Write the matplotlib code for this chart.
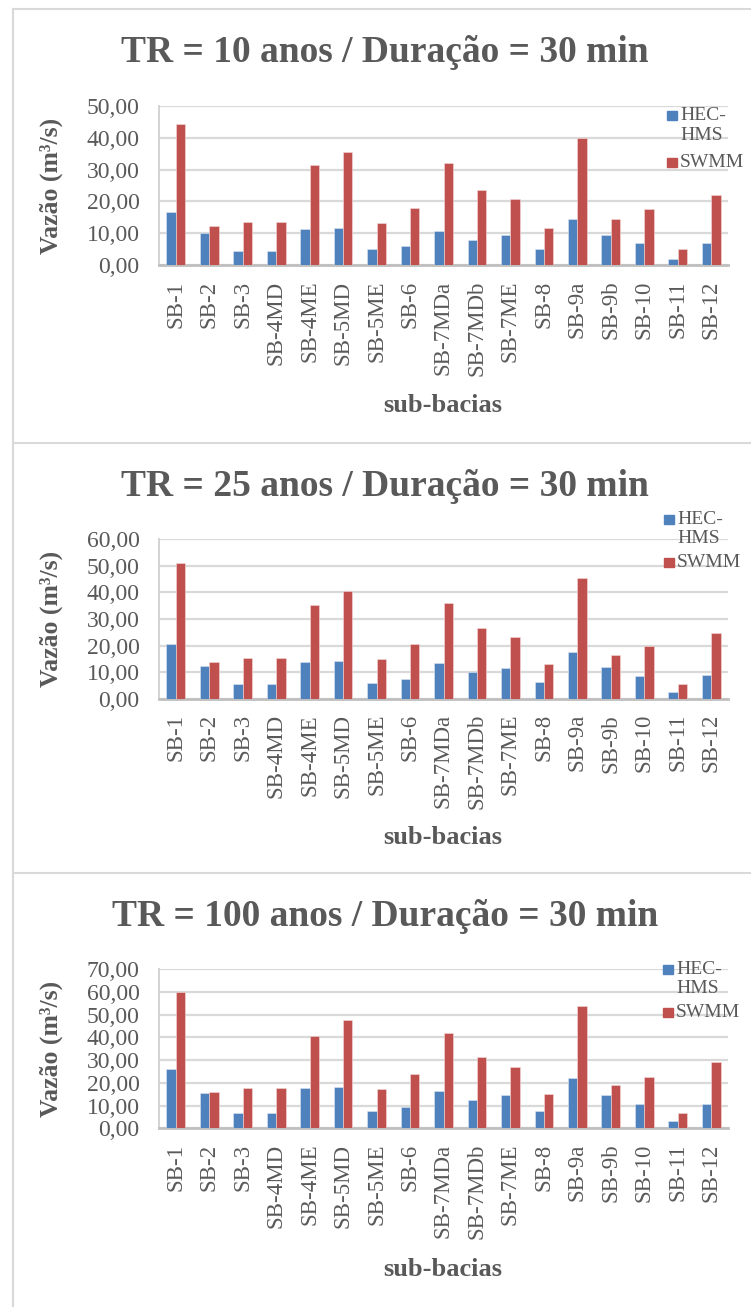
import numpy as np
import matplotlib
matplotlib.use('Agg')
from matplotlib import pyplot as plt
from matplotlib.lines import Line2D
from matplotlib.patches import Rectangle

plt.rcParams['font.family'] = ['Liberation Serif', 'DejaVu Serif']

subbacias = ['SB-1', 'SB-2', 'SB-3', 'SB-4MD', 'SB-4ME', 'SB-5MD', 'SB-5ME',
             'SB-6', 'SB-7MDa', 'SB-7MDb', 'SB-7ME', 'SB-8', 'SB-9a', 'SB-9b',
             'SB-10', 'SB-11', 'SB-12']

titles = ['TR = 10 anos / Duração = 30 min',
          'TR = 25 anos / Duração = 30 min',
          'TR = 100 anos / Duração = 30 min']

hec_tr10 = [16.8, 10.1, 4.5, 4.5, 11.5, 11.8, 5.0, 6.1, 10.9, 8.0,
            9.4, 5.1, 14.5, 9.6, 6.9, 2.1, 7.0]
swmm_tr10 = [44.4, 12.3, 13.5, 13.5, 31.4, 35.6, 13.1, 18.1, 32.0, 23.5,
             20.7, 11.7, 39.8, 14.5, 17.6, 5.1, 21.9]

hec_tr25 = [20.5, 12.4, 5.5, 5.5, 14.0, 14.3, 6.0, 7.4, 13.3, 9.9,
            11.6, 6.3, 17.5, 11.8, 8.5, 2.5, 8.8]
swmm_tr25 = [50.9, 13.8, 15.3, 15.3, 35.3, 40.6, 14.8, 20.6, 36.1, 26.8,
             23.4, 13.0, 45.6, 16.4, 19.8, 5.6, 24.8]

hec_tr100 = [25.9, 15.6, 6.8, 6.9, 17.6, 18.2, 7.6, 9.4, 16.6, 12.4,
             14.6, 7.8, 22.1, 14.7, 10.6, 3.2, 10.7]
swmm_tr100 = [60.0, 16.0, 17.8, 17.8, 40.6, 47.6, 17.2, 24.1, 41.9, 31.2,
              27.2, 15.0, 53.8, 19.0, 22.6, 6.6, 29.0]

y_max = [50, 60, 70]

W, H = 751, 1307
BLUE = '#4F81BD'
RED = '#C0504D'
GREY_TXT = '#595959'
GRID = '#d9d9d9'

fig = plt.figure(figsize=(W / 100, H / 100), dpi=100)


def fx(px):
    return px / W


def fy(py):
    return 1 - py / H


# panel layout in pixels: (title y, plot top, plot bottom, xlabel y, legend blue y, legend red y)
layout = [
    (52, 105.7, 265.3, 405, 115, 162.5),
    (487, 539.3, 698.7, 838, 519.5, 562.7),
    (917, 969.3, 1128.3, 1269, 969.7, 1012.5),
]
leg_x = [667, 664, 663]

series = [(hec_tr10, swmm_tr10), (hec_tr25, swmm_tr25), (hec_tr100, swmm_tr100)]

x = np.arange(len(subbacias))
bw = 0.28

for i, (hec, swmm) in enumerate(series):
    t_y, top, bot, xl_y, lb_y, lr_y = layout[i]
    ax = fig.add_axes([fx(159), fy(bot), fx(728) - fx(159), (bot - top) / H])
    ax.bar(x - bw / 2, hec, bw, color=BLUE, edgecolor='#dce6f2', linewidth=0.4, zorder=3)
    ax.bar(x + bw / 2, swmm, bw, color=RED, edgecolor='#f2dcdb', linewidth=0.4, zorder=3)
    ax.set_xlim(-0.5, len(subbacias) - 0.5)
    ax.set_ylim(0, y_max[i])
    ax.set_yticks(np.arange(0, y_max[i] + 1, 10))
    ax.set_yticklabels([f'{v:.2f}'.replace('.', ',') for v in np.arange(0, y_max[i] + 1, 10)])
    ax.set_xticks(x)
    ax.set_xticklabels(subbacias, rotation=90)
    ax.yaxis.grid(True, color=GRID, linewidth=1.6, zorder=0)
    ax.set_axisbelow(True)
    for s in ['top', 'right']:
        ax.spines[s].set_visible(False)
    ax.spines['left'].set_color('#d0d0d0')
    ax.spines['left'].set_linewidth(1.3)
    ax.spines['bottom'].set_color('#bfbfbf')
    ax.spines['bottom'].set_linewidth(2.0)
    ax.tick_params(axis='y', length=0, pad=14, labelsize=17, labelcolor=GREY_TXT)
    ax.tick_params(axis='x', length=0, pad=11, labelsize=16.5, labelcolor=GREY_TXT)
    ax.set_ylabel('Vazão (m³/s)', fontsize=18.5, fontweight='bold', color=GREY_TXT,
                  labelpad=0)
    ax.yaxis.set_label_coords(fx(63 - 159) / (fx(728) - fx(159)), 0.5)

    fig.text(fx(385), fy(t_y), titles[i], ha='center', va='center', fontsize=27,
             fontweight='bold', color=GREY_TXT)
    fig.text(fx(443), fy(xl_y), 'sub-bacias', ha='center', va='center', fontsize=19,
             fontweight='bold', color=GREY_TXT)

    # legend
    lx = leg_x[i]
    fig.patches.append(Rectangle((fx(lx), fy(lb_y + 4.5)), fx(10), 9 / H,
                                 transform=fig.transFigure, color=BLUE))
    fig.patches.append(Rectangle((fx(lx), fy(lr_y + 4.5)), fx(10), 9 / H,
                                 transform=fig.transFigure, color=RED))
    fig.text(fx(lx + 13), fy(lb_y), 'HEC-', ha='left', va='center',
             fontsize=14, color=GREY_TXT)
    fig.text(fx(lx + 13), fy(lb_y + (lr_y - lb_y) * 0.44), 'HMS', ha='left',
             va='center', fontsize=14, color=GREY_TXT)
    fig.text(fx(lx + 13), fy(lr_y), 'SWMM', ha='left', va='center',
             fontsize=14, color=GREY_TXT)

# chart frames
frame = dict(color='#d9d9d9', linewidth=1.5, transform=fig.transFigure)
fig.lines.append(Line2D([fx(13), fx(13)], [fy(9), 0], **frame))
for py in [9, 443, 873]:
    fig.lines.append(Line2D([fx(13), 1], [fy(py), fy(py)], **frame))

fig.savefig('out.png', dpi=100, facecolor='white')
